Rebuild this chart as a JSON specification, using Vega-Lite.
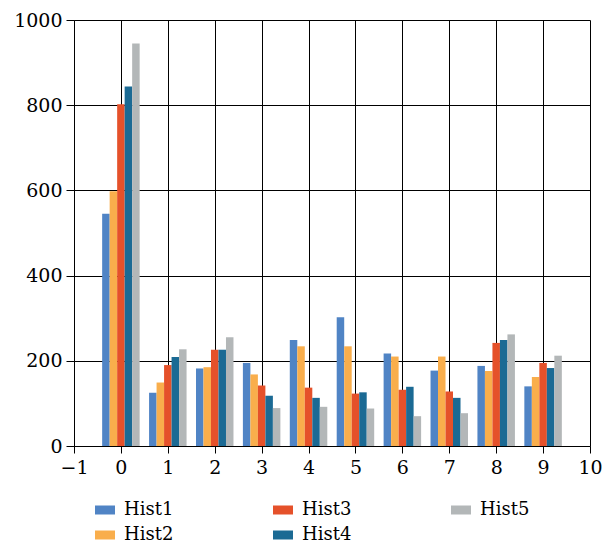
{
  "$schema": "https://vega.github.io/schema/vega-lite/v6.json",
  "width": 516,
  "height": 426,
  "autosize": "none",
  "padding": {"left": 74, "top": 20, "right": 14, "bottom": 97},
  "background": "white",
  "data": {
    "values": [
      {"bin": 0, "series": "Hist1", "count": 545}, {"bin": 0, "series": "Hist2", "count": 598}, {"bin": 0, "series": "Hist3", "count": 802}, {"bin": 0, "series": "Hist4", "count": 844}, {"bin": 0, "series": "Hist5", "count": 945},
      {"bin": 1, "series": "Hist1", "count": 125}, {"bin": 1, "series": "Hist2", "count": 149}, {"bin": 1, "series": "Hist3", "count": 190}, {"bin": 1, "series": "Hist4", "count": 209}, {"bin": 1, "series": "Hist5", "count": 227},
      {"bin": 2, "series": "Hist1", "count": 182}, {"bin": 2, "series": "Hist2", "count": 185}, {"bin": 2, "series": "Hist3", "count": 226}, {"bin": 2, "series": "Hist4", "count": 226}, {"bin": 2, "series": "Hist5", "count": 255},
      {"bin": 3, "series": "Hist1", "count": 195}, {"bin": 3, "series": "Hist2", "count": 168}, {"bin": 3, "series": "Hist3", "count": 142}, {"bin": 3, "series": "Hist4", "count": 118}, {"bin": 3, "series": "Hist5", "count": 89},
      {"bin": 4, "series": "Hist1", "count": 249}, {"bin": 4, "series": "Hist2", "count": 234}, {"bin": 4, "series": "Hist3", "count": 137}, {"bin": 4, "series": "Hist4", "count": 113}, {"bin": 4, "series": "Hist5", "count": 92},
      {"bin": 5, "series": "Hist1", "count": 302}, {"bin": 5, "series": "Hist2", "count": 234}, {"bin": 5, "series": "Hist3", "count": 123}, {"bin": 5, "series": "Hist4", "count": 126}, {"bin": 5, "series": "Hist5", "count": 88},
      {"bin": 6, "series": "Hist1", "count": 217}, {"bin": 6, "series": "Hist2", "count": 210}, {"bin": 6, "series": "Hist3", "count": 132}, {"bin": 6, "series": "Hist4", "count": 139}, {"bin": 6, "series": "Hist5", "count": 70},
      {"bin": 7, "series": "Hist1", "count": 177}, {"bin": 7, "series": "Hist2", "count": 210}, {"bin": 7, "series": "Hist3", "count": 128}, {"bin": 7, "series": "Hist4", "count": 113}, {"bin": 7, "series": "Hist5", "count": 77},
      {"bin": 8, "series": "Hist1", "count": 188}, {"bin": 8, "series": "Hist2", "count": 176}, {"bin": 8, "series": "Hist3", "count": 242}, {"bin": 8, "series": "Hist4", "count": 249}, {"bin": 8, "series": "Hist5", "count": 262},
      {"bin": 9, "series": "Hist1", "count": 140}, {"bin": 9, "series": "Hist2", "count": 162}, {"bin": 9, "series": "Hist3", "count": 195}, {"bin": 9, "series": "Hist4", "count": 183}, {"bin": 9, "series": "Hist5", "count": 212}
    ]
  },
  "mark": {"type": "bar", "width": 7.5},
  "encoding": {
    "x": {
      "field": "bin",
      "type": "ordinal",
      "scale": {"type": "point", "domain": [-1, 0, 1, 2, 3, 4, 5, 6, 7, 8, 9, 10], "padding": 0},
      "axis": {"title": null, "tickSize": 7, "labelPadding": 5, "labelAngle": 0, "labelFlush": false, "labelExpr": "replace(datum.label, '-', '−')"}
    },
    "xOffset": {
      "field": "series",
      "type": "nominal",
      "scale": {"domain": ["Hist1", "Hist2", "Hist3", "Hist4", "Hist5"], "range": [-18.75, 18.75], "paddingInner": 0, "paddingOuter": 0}
    },
    "y": {
      "field": "count",
      "type": "quantitative",
      "stack": null,
      "scale": {"domain": [0, 1000], "nice": false},
      "axis": {"values": [0, 200, 400, 600, 800, 1000], "format": "d", "title": null, "tickSize": 8, "labelPadding": 4}
    },
    "color": {
      "field": "series",
      "type": "nominal",
      "scale": {
        "domain": ["Hist1", "Hist3", "Hist5", "Hist2", "Hist4"],
        "range": ["#5084c5", "#e5512a", "#b3b7b8", "#f9ae4c", "#1b6a94"]
      },
      "legend": {
        "title": null,
        "orient": "none",
        "legendX": 21,
        "legendY": 480,
        "direction": "horizontal",
        "columns": 3,
        "columnPadding": 99,
        "rowPadding": 6,
        "padding": 0,
        "symbolType": "M-1,-0.45L1,-0.45L1,0.45L-1,0.45Z",
        "symbolSize": 400,
        "symbolStrokeWidth": 0,
        "labelOffset": 9,
        "labelFontSize": 18,
        "labelColor": "black",
        "labelFont": "DejaVu Serif"
      }
    }
  },
  "config": {
    "font": "DejaVu Serif",
    "view": {"stroke": null},
    "axis": {
      "labelFont": "DejaVu Serif",
      "labelFontSize": 19,
      "labelColor": "black",
      "tickColor": "black",
      "domainColor": "black",
      "gridColor": "black",
      "gridOpacity": 1,
      "gridWidth": 1,
      "grid": true
    }
  }
}
